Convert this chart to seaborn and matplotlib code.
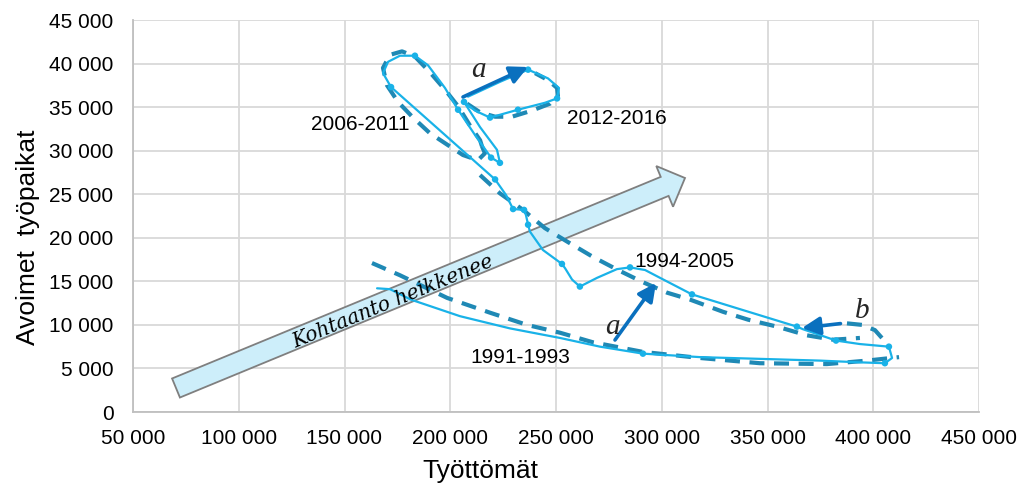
import numpy as np
import pandas as pd
import matplotlib
matplotlib.use("Agg")
import matplotlib.pyplot as plt
import seaborn as sns
from matplotlib.patches import Polygon
from matplotlib.ticker import FuncFormatter

# ---------------- data ----------------
unemployed = [165400, 171500, 181400, 204600, 228200, 251900, 270800, 291100, 318100, 346400,
              374800, 393700, 405500, 408900, 407400, 393700, 382400, 366800, 363900, 338400,
              314300, 299200, 292100, 285000, 278800, 269400, 261300, 257600, 254300, 252800,
              243800, 237700, 236800, 235800, 234900, 229700, 226400, 221200, 172000, 168200,
              170600, 176200, 183300, 189500, 197500, 203700, 211700, 219300, 223500, 222100,
              214100, 206500, 211700, 218800, 232000, 244800, 250500, 251400, 246200, 236800,
              223500, 208400]
vacancies = [14200, 14100, 12900, 11000, 9600, 8500, 7500, 6700, 6300, 6100,
             5900, 5700, 5600, 6200, 7500, 7800, 8200, 9500, 9800, 11700,
             13500, 15400, 16300, 16600, 16400, 15400, 14400, 15200, 16500, 17000,
             18600, 20700, 21500, 22600, 23200, 23300, 24900, 26700, 37300, 38900,
             40200, 40900, 40900, 39800, 37200, 34700, 31800, 29200, 28600, 30100,
             32700, 35600, 34600, 33800, 34700, 35500, 36000, 37200, 38300, 39300,
             37900, 36200]
marked = [0, 0, 0, 0, 0, 0, 0, 1, 0, 0,
          0, 0, 1, 0, 1, 0, 1, 0, 1, 0,
          1, 0, 0, 1, 0, 0, 1, 0, 0, 1,
          0, 0, 1, 0, 1, 1, 0, 1, 1, 0,
          0, 0, 1, 0, 0, 1, 0, 1, 1, 0,
          0, 1, 0, 1, 1, 0, 1, 0, 0, 1,
          0, 0]

trend91_x = [163000, 176200, 198500, 218800, 236300, 251900, 267500, 291100, 318100, 346400, 378100, 397000, 412200]
trend91_y = [17100, 15700, 13100, 11400, 10000, 9100, 8000, 6900, 6200, 5600, 5500, 5900, 6300]

loop06_x = [215000, 216400, 213100, 206000, 198500, 190400, 182400, 175300, 170100, 168200,
            171500, 177200, 183300, 190400, 197500, 203700, 209300, 214100, 215000]
loop06_y = [30500, 29700, 28900, 29500, 30700, 32000, 33800, 35600, 37500, 39500,
            41000, 41400, 40800, 39000, 37000, 35100, 32900, 31200, 30500]

trend94_x = [214100, 223500, 234400, 244800, 255700, 267500, 279300, 291100, 302500, 313400,
             329000, 340800, 354500, 368700, 381000, 393700]
trend94_y = [27200, 25100, 23200, 21100, 19500, 17800, 16300, 14900, 13700, 12900,
             11500, 10600, 9800, 8800, 8300, 8500]

loop12_x = [207900, 214100, 221200, 229200, 238600, 247200, 250900, 250500, 246200, 240100]
loop12_y = [35400, 34400, 33900, 33900, 34600, 35400, 36300, 37200, 38100, 38900]

b_arc_x = [404100, 400800, 394700, 386600]
b_arc_y = [8500, 9400, 10000, 10200]

period_labels = ["2006-2011", "2012-2016", "1994-2005", "1991-1993"]
period_x = [157300, 278800, 310500, 233000]
period_y = [32950, 33750, 17220, 6200]

x_ticks = [50000, 100000, 150000, 200000, 250000, 300000, 350000, 400000, 450000]
y_ticks = [0, 5000, 10000, 15000, 20000, 25000, 30000, 35000, 40000, 45000]

# ---------------- style ----------------
sns.set_theme(style="whitegrid")
plt.rcParams["font.family"] = ["Liberation Sans", "DejaVu Sans"]
plt.rcParams["lines.scale_dashes"] = True

W, H = 1023, 486
fig = plt.figure(figsize=(W / 100, H / 100), dpi=100)
fig.patch.set_facecolor("white")
ax = fig.add_axes([133 / W, 1 - 412 / H, (979 - 133) / W, (412 - 20) / H])
ax.set_facecolor("white")

SOLID = "#19B2E8"
DASH = "#1F89B5"
ARROW = "#0A70BE"
dash_style = (0, (3.6, 2.3))

def fx(px):
    return px / W

def fy(py):
    return 1 - py / H

# big block arrow (figure pixel geometry)
T = np.array([176.0, 388.0])
tip = np.array([685.0, 178.0])
d = tip - T
u = d / np.linalg.norm(d)
n = np.array([-u[1], u[0]])
hw, headw, headl = 10.3, 22.0, 22.0
B = tip - headl * u
poly_px = [T + hw * n, B + hw * n, B + headw * n, tip, B - headw * n, B - hw * n, T - hw * n]
poly = Polygon([(fx(p[0]), fy(p[1])) for p in poly_px], closed=True, transform=fig.transFigure,
               facecolor="#CDEEFA", edgecolor="#7F7F7F", linewidth=1.3, zorder=1.5)
ax.add_artist(poly)
ang = np.degrees(np.arctan2(-d[1], d[0]))
fig.text(fx(393), fy(302), "Kohtaanto heikkenee", rotation=ang, rotation_mode="anchor",
         ha="center", va="center", fontsize=14.5, style="italic",
         family=["DejaVu Serif"], color="black", zorder=6)

# dashed trend curves
for xs, ys in [(trend91_x, trend91_y), (loop06_x, loop06_y), (trend94_x, trend94_y),
               (loop12_x, loop12_y), (b_arc_x, b_arc_y)]:
    df = pd.DataFrame({"x": xs, "y": ys})
    sns.lineplot(data=df, x="x", y="y", sort=False, estimator=None, ax=ax, color=DASH,
                 linewidth=3.0, linestyle=dash_style, zorder=3)

# main solid path
main = pd.DataFrame({"Työttömät": unemployed, "Avoimet": vacancies, "m": marked})
sns.lineplot(data=main, x="Työttömät", y="Avoimet", sort=False, estimator=None, ax=ax,
             color=SOLID, linewidth=1.6, zorder=4)
mk = main[main["m"] == 1]
sns.scatterplot(data=mk, x="Työttömät", y="Avoimet", ax=ax, color=SOLID, s=22,
                edgecolor="none", zorder=5)

# arrows a, a, b
aprops = dict(arrowstyle="-|>,head_length=0.9,head_width=0.45", color=ARROW, lw=2.6,
              shrinkA=0, shrinkB=0)
ax.annotate("", xy=(236756, 39606), xytext=(206024, 36162), arrowprops=aprops, zorder=6)
ax.annotate("", xy=(297274, 14809), xytext=(277890, 8266), arrowprops=aprops, zorder=6)
ax.annotate("", xy=(366300, 9640), xytext=(384500, 10150), arrowprops=aprops, zorder=6)

serif = ["Liberation Serif", "DejaVu Serif"]
ax.text(213117, 39262, "a", fontsize=21, style="italic", family=serif, ha="center", va="center", zorder=7)
ax.text(276472, 9758, "a", fontsize=21, style="italic", family=serif, ha="center", va="center", zorder=7)
ax.text(395000, 11600, "b", fontsize=21, style="italic", family=serif, ha="center", va="center", zorder=7)

for lab, x, y in zip(period_labels, period_x, period_y):
    ax.text(x, y, lab, fontsize=15, ha="center", va="center", color="black", zorder=7)

# axes
ax.set_xlim(50000, 450000)
ax.set_ylim(0, 45000)
ax.set_xticks(x_ticks)
ax.set_yticks(y_ticks)
fmt = FuncFormatter(lambda v, p: f"{int(round(v)):,}".replace(",", " "))
ax.xaxis.set_major_formatter(fmt)
ax.yaxis.set_major_formatter(fmt)
ax.tick_params(axis="x", length=0, pad=12, labelsize=15, colors="black")
ax.tick_params(axis="y", length=0, pad=14, labelsize=15, colors="black")
ax.grid(True, color="#D9D9D9", linewidth=1.3)
for s in ["top", "right"]:
    ax.spines[s].set_visible(False)
for s in ["left", "bottom"]:
    ax.spines[s].set_visible(True)
    ax.spines[s].set_color("#BFBFBF")
    ax.spines[s].set_linewidth(1.3)
ax.set_xlabel("")
ax.set_ylabel("")

fig.text(fx(480), fy(471), "Työttömät", fontsize=19, ha="center", va="center", color="black")
fig.text(fx(28), fy(237), "Avoimet  työpaikat", fontsize=19, ha="center", va="center",
         rotation=90, color="black")

fig.savefig("out.png", dpi=100, facecolor="white")
